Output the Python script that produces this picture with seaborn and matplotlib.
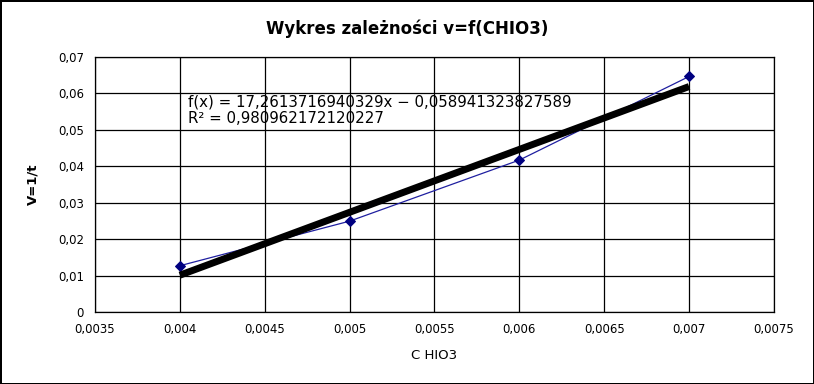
import pandas as pd
import matplotlib
matplotlib.use('Agg')
import matplotlib.pyplot as plt
import seaborn as sns
from matplotlib.ticker import FuncFormatter, MultipleLocator

###
### DATA
###
c_hio3 = [0.004, 0.005, 0.006, 0.007]
v = [0.0127, 0.02494, 0.0417, 0.06465]
eq_text = 'f(x) = 17,2613716940329x − 0,058941323827589'
r2_text = 'R² = 0,980962172120227'

df = pd.DataFrame({'C HIO3': c_hio3, 'V=1/t': v})

###
### PLOT
###
sns.set_style('white')
plt.rcParams['font.family'] = ['DejaVu Sans']
plt.rcParams['text.color'] = 'black'
plt.rcParams['axes.labelcolor'] = 'black'
plt.rcParams['xtick.color'] = 'black'
plt.rcParams['ytick.color'] = 'black'

fig = plt.figure(figsize=(8.14, 3.84), dpi=100)
fig.patch.set_edgecolor('black')
fig.patch.set_linewidth(2)
ax = fig.add_axes([0.1167, 0.1875, 0.8341, 0.6641])

# measured points (thin blue line + diamonds)
sns.lineplot(data=df, x='C HIO3', y='V=1/t', ax=ax, color='#1f1fa0', lw=0.9,
             marker='D', markersize=5, markerfacecolor='#000080',
             markeredgecolor='#000080', zorder=3)
# linear trendline
sns.regplot(data=df, x='C HIO3', y='V=1/t', ax=ax, ci=None, truncate=True,
            scatter=False, line_kws={'color': 'black', 'lw': 5,
                                     'solid_capstyle': 'butt', 'zorder': 4})

ax.set_xlim(0.0035, 0.0075)
ax.set_ylim(0, 0.07)
ax.xaxis.set_major_locator(MultipleLocator(0.0005))
ax.yaxis.set_major_locator(MultipleLocator(0.01))
fmt = FuncFormatter(lambda val, pos: '{:g}'.format(round(val, 6)).replace('.', ','))
ax.xaxis.set_major_formatter(fmt)
ax.yaxis.set_major_formatter(fmt)
ax.grid(True, color='black', lw=0.9)
ax.set_axisbelow(True)
for s in ax.spines.values():
    s.set_color('black')
    s.set_linewidth(0.9)
ax.tick_params(axis='both', direction='out', length=5, width=0.9,
               color='black', labelsize=8.5, pad=3)

ax.set_xlabel('C HIO3', fontsize=9.5, labelpad=9)
ax.set_ylabel('V=1/t', fontsize=9.5, fontweight='bold', labelpad=13)
fig.text(0.5, 0.925, 'Wykres zależności v=f(CHIO3)', ha='center', va='center',
         fontsize=12, fontweight='bold')

ax.text(0.137, 0.825, eq_text, transform=ax.transAxes, fontsize=10.8,
        va='center', ha='left')
ax.text(0.137, 0.760, r2_text, transform=ax.transAxes, fontsize=10.8,
        va='center', ha='left')

fig.savefig('out.png', dpi=100, edgecolor=fig.get_edgecolor())
